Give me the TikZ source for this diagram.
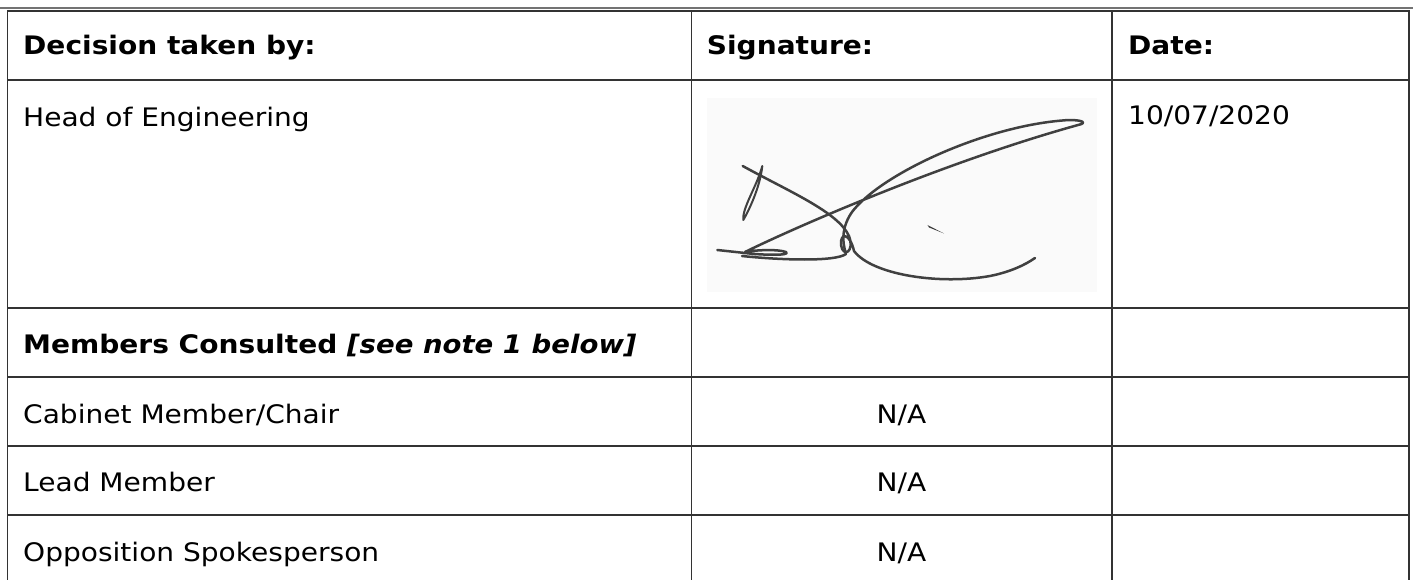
\documentclass[tikz,border=0pt]{standalone}
\usepackage{fontspec}
\setmainfont{DejaVu Sans}[FakeStretch=1.1]
\newfontfamily\itfam{DejaVu Sans}[FakeStretch=1.08]
\begin{document}
\begin{tikzpicture}[x=1pt,y=-1pt,
  grid/.style={draw=black!80,line width=1.4pt},
  txt/.style={anchor=base west,inner sep=0pt,font=\fontsize{25.5}{30}\selectfont},
  hd/.style={txt,font=\fontsize{25.5}{30}\selectfont\bfseries},
  ctr/.style={anchor=base,inner sep=0pt,font=\fontsize{25.5}{30}\selectfont},
  sig/.style={draw=black!75,line width=2.5pt,line cap=round,line join=round}]
\useasboundingbox (0,0) rectangle (1416,580);
% top rule
\draw[draw=black!55,line width=1.8pt] (0,7.8) -- (1413,7.8);
% table grid
\draw[grid] (7.3,590) -- (7.3,11) -- (1409,11) -- (1409,590);
\draw[grid] (691.5,11) -- (691.5,590);
\draw[grid] (1111.8,11) -- (1111.8,590);
\foreach \y in {80,308,377,446,515} \draw[grid] (7.3,\y) -- (1409,\y);
% signature background
\fill[black!2] (707,98) rectangle (1097,292);
% signature strokes
\draw[sig] (742.7,166) .. controls (790,192) and (838,212) .. (849,236) .. controls (855,252) and (843,258) .. (841,245) .. controls (840,232) and (850,233) .. (854,251) .. controls (872,275) and (940,285) .. (990,276) .. controls (1010,272) and (1025,265) .. (1035,258);
\draw[sig,line width=2pt] (762.3,166) .. controls (757,186) and (742,208) .. (743.3,220) .. controls (748,212) and (760,188) .. (762.3,166);
\draw[sig] (717.3,250) -- (745,253) .. controls (760,255) and (792,256) .. (786,252) .. controls (778,249) and (755,250) .. (745,252) .. controls (800,225) and (950,160) .. (1081.7,124) .. controls (1087,121) and (1075,119) .. (1060,120.7) .. controls (980,128) and (880,175) .. (852,212) .. controls (838,232) and (845,250) .. (846,254) .. controls (835,262) and (780,260) .. (742,256);
\fill[black!75] (927.5,225) -- (944,233.5) -- (929,227.5) -- cycle;
% texts
\node[hd] (h1) at (23,55) {Decision taken by:};
\node[hd] (h2) at (706.7,55) {Signature:};
\node[hd] (h3) at (1128,55) {Date:};
\node[txt] (r1) at (23,126.7) {Head of Engineering};
\node[txt] (d1) at (1128,125) {10/07/2020};
\node[hd] (m) at (23,353.3) {Members Consulted {\itfam\bfseries\itshape [see note 1 below]}};
\node[txt] (c1) at (23,423.3) {Cabinet Member/Chair};
\node[txt] (c2) at (23,491.7) {Lead Member};
\node[txt] (c3) at (23,561.7) {Opposition Spokesperson};
\node[ctr] (n1) at (901.5,423.3) {N/A};
\node[ctr] (n2) at (901.5,491.7) {N/A};
\node[ctr] (n3) at (901.5,561.7) {N/A};
\end{tikzpicture}
\end{document}
